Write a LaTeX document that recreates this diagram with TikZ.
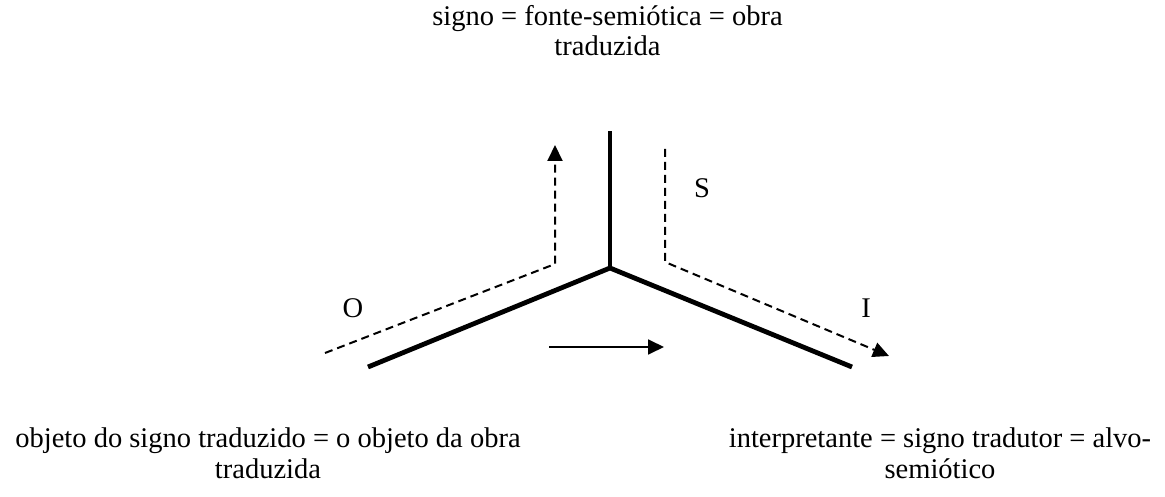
\documentclass[tikz,border=0pt]{standalone}
\usepackage{fontspec}
\setmainfont{Liberation Serif}
\usetikzlibrary{arrows.meta}
\begin{document}
\begin{tikzpicture}[x=1pt,y=-1pt,
  txt/.style={font=\fontsize{28.5}{30.5}\selectfont, align=center, inner sep=0pt, anchor=base},
  lbl/.style={font=\fontsize{28.5}{30.5}\selectfont, inner sep=0pt},
  axis/.style={line width=4.8pt},
  dashedarrow/.style={line width=2pt, dash pattern=on 8pt off 5pt, -{Triangle[length=16pt,width=15pt]}},
  flow/.style={line width=1.8pt, -{Triangle[length=16pt,width=15pt]}}]
\useasboundingbox (0,0) rectangle (1165,497);
% axes
\coordinate (c) at (610,268);
\coordinate (top) at (610,131);
\coordinate (left) at (368,367);
\coordinate (right) at (852,367);
\draw[axis] (left) -- (c) -- (right);
\draw[axis] (c) -- (top);
% dashed arrows
\coordinate (o1) at (325,353);
\coordinate (o2) at (555,264);
\coordinate (o3) at (555,145);
\draw[dashedarrow] (o1) -- (o2) -- (o3);
\coordinate (s1) at (665,149);
\coordinate (s2) at (665,262);
\coordinate (s3) at (889,356);
\draw[dashedarrow] (s1) -- (s2) -- (s3);
% flow arrow
\coordinate (f1) at (549,347);
\coordinate (f2) at (664,347);
\draw[flow] (f1) -- (f2);
% labels
\node[lbl] (lO) at (353,308) {O};
\node[lbl] (lS) at (702,188) {S};
\node[lbl] (lI) at (866,308) {I};
\node[txt] (signo) at (607.5,56) {signo = fonte-semiótica = obra\\traduzida};
\node[txt] (objeto) at (268,478) {objeto do signo traduzido = o objeto da obra\\traduzida};
\node[txt] (interp) at (940,478) {interpretante = signo tradutor = alvo-\\semiótico};
\end{tikzpicture}
\end{document}
